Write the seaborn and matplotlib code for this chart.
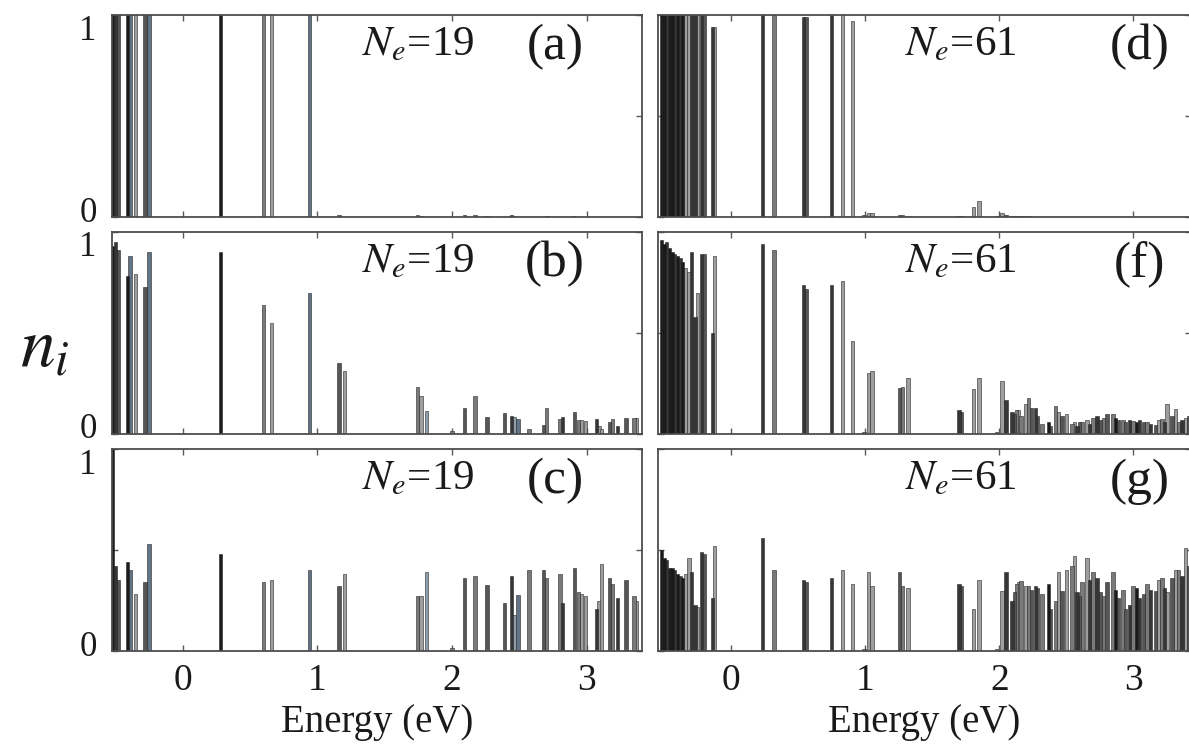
import numpy as np
import pandas as pd
import matplotlib
matplotlib.use("Agg")
import matplotlib.pyplot as plt
import matplotlib.transforms as mtransforms
import seaborn as sns

# ---------------- N_e = 19 : level energies (eV) and occupations ----------------
energy_19 = [-0.52, -0.50, -0.48, -0.41, -0.39, -0.35, -0.28, -0.25,
             0.28, 0.60, 0.66, 0.94, 1.16, 1.20,
             1.745, 1.77, 1.81, 2.00, 2.09, 2.17, 2.26, 2.39, 2.44, 2.46, 2.49,
             2.57, 2.68, 2.70, 2.80, 2.82, 2.91, 2.94, 2.96, 2.99, 3.07, 3.09, 3.11,
             3.17, 3.19, 3.23, 3.29, 3.35, 3.37]

occ_a = [1.0, 1.0, 1.0, 1.0, 1.0, 1.0, 1.0, 1.0,
         1.0, 1.0, 1.0, 1.0, 0.01, 0.0,
         0.01, 0.005, 0.0, 0.0, 0.01, 0.01, 0.005, 0.0, 0.01, 0.005, 0.0,
         0.0, 0.0, 0.005, 0.0, 0.0, 0.005, 0.0, 0.0, 0.0, 0.0, 0.0, 0.0,
         0.0, 0.0, 0.0, 0.0, 0.0, 0.0]

occ_b = [0.93, 0.95, 0.91, 0.78, 0.88, 0.79, 0.73, 0.90,
         0.90, 0.64, 0.55, 0.70, 0.35, 0.31,
         0.235, 0.19, 0.116, 0.017, 0.13, 0.186, 0.086, 0.104, 0.088, 0.083, 0.075,
         0.025, 0.046, 0.128, 0.075, 0.083, 0.11, 0.07, 0.07, 0.066, 0.075, 0.04, 0.025,
         0.058, 0.075, 0.04, 0.078, 0.08, 0.08]

occ_c = [1.0, 0.42, 0.35, 0.44, 0.40, 0.28, 0.34, 0.53,
         0.48, 0.34, 0.35, 0.40, 0.32, 0.38,
         0.27, 0.27, 0.39, 0.013, 0.36, 0.37, 0.325, 0.24, 0.37, 0.18, 0.275,
         0.40, 0.40, 0.36, 0.38, 0.24, 0.41, 0.29, 0.28, 0.27, 0.21, 0.25, 0.43,
         0.36, 0.33, 0.26, 0.35, 0.27, 0.25]

# grey level of each N_e = 19 level (index into the shade table below)
tone_19 = [0, 1, 2, 0, 5, 4, 2, 5,
           0, 3, 4, 5, 2, 4,
           3, 4, 6, 3, 2, 3, 2, 2, 1, 6, 5,
           3, 2, 3, 3, 1, 2, 3, 4, 4, 1, 4, 4,
           2, 3, 1, 2, 3, 4]

# ---------------- N_e = 61 : level energies (eV) and occupations ----------------
energy_61 = [-0.52, -0.50, -0.48, -0.46, -0.44, -0.42, -0.40, -0.38, -0.36, -0.34,
             -0.315, -0.295, -0.27, -0.25, -0.22, -0.20, -0.14, -0.125,
             0.235, 0.32, 0.54, 0.56, 0.75, 0.83, 0.905, 0.99, 1.025, 1.05,
             1.256, 1.28, 1.32, 1.70, 1.72, 1.81, 1.85, 1.98, 2.02, 2.05,
             2.095, 2.112, 2.128, 2.144, 2.162, 2.194, 2.219, 2.240, 2.269, 2.286,
             2.320, 2.368, 2.381, 2.418, 2.443, 2.468, 2.500, 2.542, 2.562, 2.580,
             2.600, 2.617, 2.654, 2.674, 2.699, 2.729, 2.754, 2.780, 2.804, 2.848,
             2.866, 2.890, 2.923, 2.940, 2.973, 2.998, 3.022, 3.047, 3.075, 3.102,
             3.130, 3.164, 3.189, 3.214, 3.230, 3.251, 3.289, 3.313, 3.338, 3.363,
             3.388, 3.410]

occ_d = [1.0, 1.0, 1.0, 1.0, 1.0, 1.0, 1.0, 1.0, 1.0, 1.0,
         1.0, 1.0, 1.0, 1.0, 1.0, 1.0, 0.94, 0.94,
         1.0, 1.0, 0.99, 0.99, 1.0, 1.0, 0.97, 0.01, 0.02, 0.02,
         0.01, 0.01, 0.005, 0.005, 0.005, 0.05, 0.08, 0.005, 0.02, 0.01,
         0.005, 0.005, 0.004, 0.004, 0.003, 0.004, 0.003, 0.0, 0.0, 0.0,
         0.0, 0.0, 0.0, 0.0, 0.0, 0.0, 0.0, 0.0, 0.0, 0.0,
         0.0, 0.0, 0.0, 0.0, 0.0, 0.0, 0.0, 0.0, 0.0, 0.0,
         0.0, 0.0, 0.0, 0.0, 0.0, 0.0, 0.0, 0.0, 0.0, 0.0,
         0.0, 0.0, 0.0, 0.0, 0.0, 0.0, 0.0, 0.0, 0.0, 0.0,
         0.0, 0.0]

occ_f = [0.96, 0.94, 0.95, 0.92, 0.90, 0.89, 0.88, 0.87, 0.85, 0.82,
         0.80, 0.90, 0.58, 0.70, 0.89, 0.89, 0.50, 0.88,
         0.94, 0.91, 0.74, 0.72, 0.74, 0.755, 0.46, 0.01, 0.30, 0.31,
         0.23, 0.233, 0.275, 0.117, 0.11, 0.225, 0.275, 0.01, 0.26, 0.17,
         0.11, 0.10, 0.12, 0.12, 0.09, 0.15, 0.18, 0.13, 0.13, 0.09,
         0.05, 0.06, 0.04, 0.14, 0.11, 0.09, 0.10, 0.05, 0.06, 0.04,
         0.06, 0.06, 0.07, 0.05, 0.08, 0.09, 0.07, 0.08, 0.10, 0.10,
         0.08, 0.07, 0.07, 0.06, 0.07, 0.065, 0.06, 0.07, 0.06, 0.06,
         0.05, 0.045, 0.07, 0.075, 0.06, 0.15, 0.09, 0.125, 0.06, 0.07,
         0.08, 0.09]

occ_g = [0.50, 0.46, 0.45, 0.41, 0.41, 0.40, 0.38, 0.37, 0.36, 0.38,
         0.46, 0.39, 0.23, 0.22, 0.49, 0.48, 0.26, 0.52,
         0.56, 0.40, 0.35, 0.34, 0.36, 0.40, 0.33, 0.01, 0.39, 0.32,
         0.39, 0.32, 0.31, 0.33, 0.32, 0.21, 0.35, 0.01, 0.295, 0.39,
         0.25, 0.29, 0.33, 0.34, 0.345, 0.32, 0.32, 0.30, 0.32, 0.31,
         0.28, 0.33, 0.21, 0.25, 0.39, 0.295, 0.40, 0.42, 0.47, 0.29,
         0.27, 0.34, 0.46, 0.35, 0.39, 0.36, 0.29, 0.27, 0.34, 0.39,
         0.30, 0.26, 0.30, 0.21, 0.23, 0.32, 0.31, 0.26, 0.28, 0.33,
         0.30, 0.295, 0.35, 0.36, 0.31, 0.29, 0.36, 0.40, 0.40, 0.37,
         0.51, 0.42]

tone_61 = [0, 0, 1, 0, 0, 1, 0, 1, 0, 4,
           4, 1, 1, 4, 1, 2, 1, 4,
           1, 3, 1, 2, 1, 4, 4, 3, 4, 4,
           2, 3, 4, 1, 2, 4, 4, 3, 4, 1,
           1, 2, 3, 4, 3, 4, 3, 2, 1, 2,
           3, 0, 2, 3, 4, 2, 4, 3, 4, 1,
           2, 3, 4, 1, 3, 1, 2, 3, 2, 3,
           0, 2, 3, 2, 1, 3, 0, 1, 2, 3,
           1, 2, 4, 3, 1, 4, 2, 4, 3, 1,
           4, 2]

# ---------------- styling ----------------
shades = {"t0": "#1a1a1a", "t1": "#363636", "t2": "#565656", "t3": "#7a7a7a",
          "t4": "#9e9e9e", "t5": "#637486", "t6": "#8e9fae"}
draw_order = ["t4", "t6", "t3", "t5", "t2", "t1", "t0"]
BAR_W = 0.025  # eV

sns.set_theme(style="ticks")
plt.rcParams["font.family"] = ["Liberation Serif", "DejaVu Serif"]
plt.rcParams["mathtext.fontset"] = "stix"

W, H = 1189, 751
fig = plt.figure(figsize=(W / 100, H / 100), dpi=100)

col_px = [(112, 642), (658, 1191)]
row_px = [(15, 217), (232, 434), (449, 651)]
col_xlim = [(-0.525, 3.41), (-0.545, 3.43)]
TEXT_C = "#1a1a1a"


def add_panel(col, row):
    x0, x1 = col_px[col]
    y0, y1 = row_px[row]
    return fig.add_axes([x0 / W, 1 - y1 / H, (x1 - x0) / W, (y1 - y0) / H])


panels = [
    (0, 0, energy_19, occ_a, tone_19, "19", "(a)"),
    (0, 1, energy_19, occ_b, tone_19, "19", "(b)"),
    (0, 2, energy_19, occ_c, tone_19, "19", "(c)"),
    (1, 0, energy_61, occ_d, tone_61, "61", "(d)"),
    (1, 1, energy_61, occ_f, tone_61, "61", "(f)"),
    (1, 2, energy_61, occ_g, tone_61, "61", "(g)"),
]

for col, row, energy, occ, tone, ne, tag in panels:
    ax = add_panel(col, row)
    df = pd.DataFrame({"energy": energy, "occ": occ,
                       "tone": [f"t{t}" for t in tone]})
    step = np.diff(np.unique(df["energy"])).min()
    sns.barplot(data=df, x="energy", y="occ", hue="tone", hue_order=draw_order,
                palette=shades, native_scale=True, dodge=False, errorbar=None,
                width=BAR_W / step, saturation=1, legend=False,
                edgecolor="#262626", linewidth=0.4, ax=ax)

    ax.set_xlim(*col_xlim[col])
    ax.set_ylim(0, 1)
    ax.set_xticks([0, 1, 2, 3])
    ax.set_yticks([0, 0.5, 1])
    if row == 2:
        ax.set_xticklabels(["0", "1", "2", "3"])
        ax.set_xlabel("Energy (eV)", fontsize=28, labelpad=4, color=TEXT_C)
    else:
        ax.set_xticklabels([])
        ax.set_xlabel("")
    if col == 0:
        ax.set_yticklabels(["0", "", "1"])
    else:
        ax.set_yticklabels([])
    ax.set_ylabel("")
    ax.tick_params(axis="both", direction="in", top=True, right=True,
                   length=4, width=1.0, color="0.35", labelcolor=TEXT_C)
    ax.tick_params(axis="x", pad=9, labelsize=27)
    ax.tick_params(axis="y", pad=11, labelsize=25)
    for sp in ax.spines.values():
        sp.set_visible(True)
        sp.set_color("0.3")
        sp.set_linewidth(1.3)

    # pull the 0 / 1 labels slightly inside the panel height
    if col == 0:
        labels = ax.get_yticklabels()
        shift = {0: 8, 2: -12}
        for i, dy in shift.items():
            lbl = labels[i]
            lbl.set_transform(lbl.get_transform() + mtransforms.ScaledTranslation(
                0, dy / 100, fig.dpi_scale_trans))

    ne_x = 0.472 if col == 0 else 0.463
    tag_x = 0.836 if col == 0 else 0.904
    ax.text(ne_x, 0.85, rf"$N_e$={ne}", transform=ax.transAxes,
            ha="left", va="center", fontsize=31, color=TEXT_C)
    ax.text(tag_x, 0.84, tag, transform=ax.transAxes,
            ha="center", va="center", fontsize=37, color=TEXT_C)

fig.text(0.038, 0.535, r"$n_i$", fontsize=50, ha="center", va="center",
         color=TEXT_C)

fig.savefig("out.png", dpi=100)
